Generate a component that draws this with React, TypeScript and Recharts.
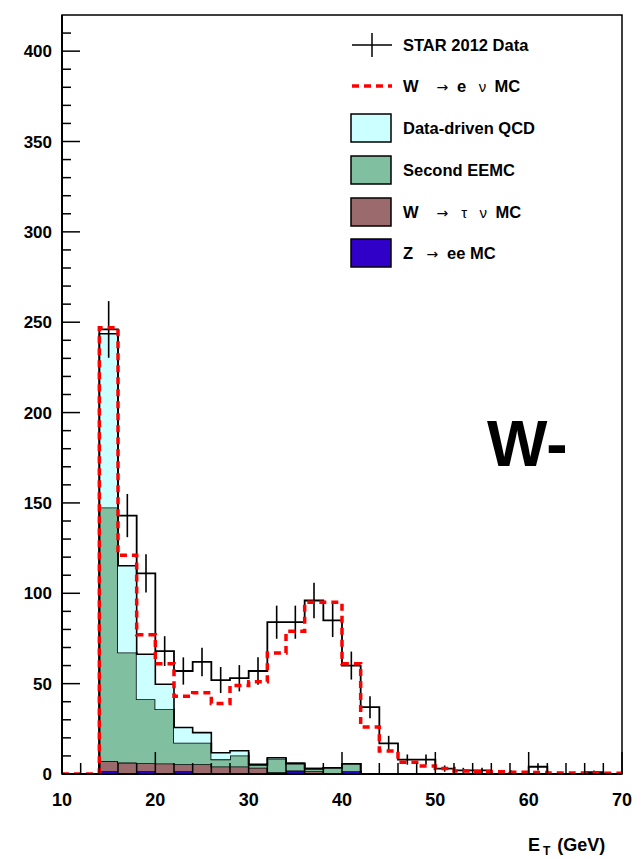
import React from "react";
import {
  ComposedChart,
  Area,
  Line,
  Scatter,
  ErrorBar,
  XAxis,
  YAxis,
  ReferenceArea,
} from "recharts";

// low edges of the 2 GeV E_T bins
const binLow = [10, 12, 14, 16, 18, 20, 22, 24, 26, 28, 30, 32, 34, 36, 38, 40, 42, 44, 46, 48, 50, 52, 54, 56, 58, 60, 62, 64, 66, 68];

const starData = [0, 0, 246, 143, 111, 68, 57, 62, 52, 53, 57, 84, 84, 96, 85, 60, 37, 17, 8, 8, 3, 2, 2, 0, 0, 4, 0, 0, 1, 0];
const wenuMC = [0, 0, 247, 121, 77, 61, 43, 45, 39, 49, 51, 67, 79, 95, 95, 61, 26, 12.7, 6.5, 4.4, 3.1, 1.7, 1.3, 1.3, 1.0, 0.8, 0.6, 0.6, 0.5, 0.4];

// stacked backgrounds, bottom to top
const zeeMC = [0, 0, 1.5, 0, 1.5, 0, 1.5, 0, 0, 0, 0, 0, 1.5, 0, 0, 1.5, 0, 0, 0, 0, 0, 0, 0, 0, 0, 0, 0, 0, 0, 0];
const wtaunuMC = [0, 0, 5.7, 6.3, 4.5, 5.8, 3.9, 5.4, 4.2, 4.2, 3.5, 1, 0.5, 1.5, 0.5, 0, 0, 0, 0, 0, 0, 0, 0, 0, 0, 0, 0, 0, 0, 0];
const secondEEMC = [0, 0, 140.3, 60.9, 35.4, 30, 11.9, 11.9, 3.9, 6.1, 1.5, 7.5, 3.7, 1.5, 3, 4.2, 0, 0, 0, 0, 0, 0, 0, 0, 0, 0, 0, 0, 0, 0];
const qcdData = [0, 0, 96.1, 48, 24.9, 13.9, 8.4, 5.6, 3.7, 2.6, 0.4, 0.5, 0.3, 0, 0, 0, 0, 0, 0, 0, 0, 0, 0, 0, 0, 0, 0, 0, 0, 0];

const xTicks = [10, 12, 14, 16, 18, 20, 22, 24, 26, 28, 30, 32, 34, 36, 38, 40, 42, 44, 46, 48, 50, 52, 54, 56, 58, 60, 62, 64, 66, 68, 70];
const yTicks = [0, 10, 20, 30, 40, 50, 60, 70, 80, 90, 100, 110, 120, 130, 140, 150, 160, 170, 180, 190, 200, 210, 220, 230, 240, 250, 260, 270, 280, 290, 300, 310, 320, 330, 340, 350, 360, 370, 380, 390, 400, 410];

const FONT = '"Liberation Sans", Arial, Helvetica, sans-serif';

const rows = binLow.map((x, i) => ({
  x,
  data: starData[i],
  wenu: wenuMC[i],
  z: zeeMC[i],
  tau: wtaunuMC[i],
  eemc: secondEEMC[i],
  qcd: qcdData[i],
}));
// close the last bin at 70 GeV
rows.push({ ...rows[rows.length - 1], x: 70 });

const errPoints = binLow
  .map((x, i) => ({ x: x + 1, y: starData[i], err: Math.sqrt(starData[i]) }))
  .filter((p) => p.y > 0);

const renderYTick = (props: any) => {
  const { x, y, payload } = props;
  const v = payload.value;
  const major = v % 50 === 0;
  const axisX = x + 9;
  return (
    <g>
      <line x1={axisX} x2={axisX + (major ? 18 : 9)} y1={y} y2={y} stroke="#000" strokeWidth={1.5} />
      {major && (
        <text x={x - 1} y={y + 6} textAnchor="end" fontSize={17} fontWeight="bold" fontFamily={FONT} fill="#000">
          {v}
        </text>
      )}
    </g>
  );
};

const renderXTick = (props: any) => {
  const { x, y, payload } = props;
  const v = payload.value;
  const major = v % 10 === 0;
  return (
    <g>
      <line x1={x} x2={x} y1={y} y2={y - (major ? 22 : 11)} stroke="#000" strokeWidth={1.5} />
      {major && (
        <text x={x} y={y + 32} textAnchor="middle" fontSize={18} fontWeight="bold" fontFamily={FONT} fill="#000">
          {v}
        </text>
      )}
    </g>
  );
};

const legendRows = [
  { y: 45, kind: "data" },
  { y: 86, kind: "line" },
  { y: 128, kind: "box", color: "#ccffff" },
  { y: 170, kind: "box", color: "#80bf9f" },
  { y: 212, kind: "box", color: "#9a6a6c" },
  { y: 253, kind: "box", color: "#3000c8" },
];

function Overlay() {
  const tx = 403;
  const t = { fontSize: 16.5, fontWeight: "bold" as const, fontFamily: FONT, fill: "#000" };
  const arrow = { fontWeight: "normal" as const, fontSize: 14, fontFamily: '"DejaVu Sans", sans-serif' };
  const thin = { fontWeight: "normal" as const, fontSize: 15 };
  return (
    <svg width={635} height={860} style={{ position: "absolute", left: 0, top: 0, pointerEvents: "none" }}>
      {legendRows.map((r, i) => {
        if (r.kind === "data")
          return (
            <g key={i}>
              <line x1={352} x2={392} y1={r.y} y2={r.y} stroke="#000" strokeWidth={1.5} />
              <line x1={372} x2={372} y1={r.y - 12} y2={r.y + 12} stroke="#000" strokeWidth={1.5} />
            </g>
          );
        if (r.kind === "line")
          return <line key={i} x1={352} x2={392} y1={r.y} y2={r.y} stroke="#ff0000" strokeWidth={3.5} strokeDasharray="7 5" />;
        return <rect key={i} x={351} y={r.y - 14} width={40} height={28} fill={r.color} stroke="#000" strokeWidth={1.5} />;
      })}
      <text x={tx} y={51} {...t}>STAR 2012 Data</text>
      <text x={tx} y={92} {...t} style={{ whiteSpace: "pre" }}>
        W<tspan {...arrow}>{"    \u2192  "}</tspan>e<tspan {...thin}>{"   \u03bd  "}</tspan>MC
      </text>
      <text x={tx} y={134} {...t}>Data-driven QCD</text>
      <text x={tx} y={176} {...t}>Second EEMC</text>
      <text x={tx} y={218} {...t} style={{ whiteSpace: "pre" }}>
        W<tspan {...arrow}>{"    \u2192  "}</tspan><tspan {...thin}>{" \u03c4   \u03bd  "}</tspan>MC
      </text>
      <text x={tx} y={259} {...t} style={{ whiteSpace: "pre" }}>
        Z<tspan {...arrow}>{"   \u2192  "}</tspan>ee MC
      </text>
      <text x={487} y={466} fontSize={64} fontWeight="bold" fontFamily={FONT} fill="#000">W-</text>
      <text x={528} y={851} fontSize={18} fontWeight="bold" fontFamily={FONT} fill="#000">
        E<tspan fontSize={12} dx={3} dy={4}>T</tspan>
        <tspan dx={7} dy={-4}>(GeV)</tspan>
      </text>
    </svg>
  );
}

export default function App() {
  return (
    <div style={{ position: "absolute", left: 0, top: 0, width: 635, height: 860, background: "#fff" }}>
      <ComposedChart width={635} height={860} data={rows} margin={{ top: 15, right: 13, bottom: 0, left: 0 }}>
        <XAxis
          dataKey="x"
          type="number"
          domain={[10, 70]}
          ticks={xTicks}
          interval={0}
          tickSize={0}
          tickMargin={0}
          tickLine={false}
          tick={renderXTick}
          axisLine={{ stroke: "#000", strokeWidth: 2 }}
          height={86}
          allowDataOverflow
        />
        <YAxis
          type="number"
          domain={[0, 420]}
          ticks={yTicks}
          interval={0}
          tickSize={0}
          tickMargin={9}
          tickLine={false}
          tick={renderYTick}
          axisLine={{ stroke: "#000", strokeWidth: 2 }}
          width={62}
          allowDataOverflow
        />
        <Scatter data={errPoints} dataKey="y" shape={() => <g />} isAnimationActive={false}>
          <ErrorBar dataKey="err" direction="y" width={0} stroke="#000" strokeWidth={1.6} />
        </Scatter>
        <Line type="stepAfter" dataKey="data" stroke="#000" strokeWidth={1.8} dot={false} isAnimationActive={false} />
        <Area type="stepAfter" dataKey="z" stackId="bg" fill="#3000c8" fillOpacity={1} stroke="#000" strokeWidth={1.6} isAnimationActive={false} />
        <Area type="stepAfter" dataKey="tau" stackId="bg" fill="#9a6a6c" fillOpacity={1} stroke="#000" strokeWidth={1.6} isAnimationActive={false} />
        <Area type="stepAfter" dataKey="eemc" stackId="bg" fill="#80bf9f" fillOpacity={1} stroke="#000" strokeWidth={1.6} isAnimationActive={false} />
        <Area type="stepAfter" dataKey="qcd" stackId="bg" fill="#ccffff" fillOpacity={1} stroke="#000" strokeWidth={1.6} isAnimationActive={false} />
        <Line type="stepAfter" dataKey="wenu" stroke="#ff0000" strokeWidth={3.5} strokeDasharray="7 5" dot={false} isAnimationActive={false} />
        <ReferenceArea x1={10} x2={70} y1={0} y2={420} fill="none" stroke="#000" strokeWidth={1.5} ifOverflow="visible" />
      </ComposedChart>
      <Overlay />
    </div>
  );
}
